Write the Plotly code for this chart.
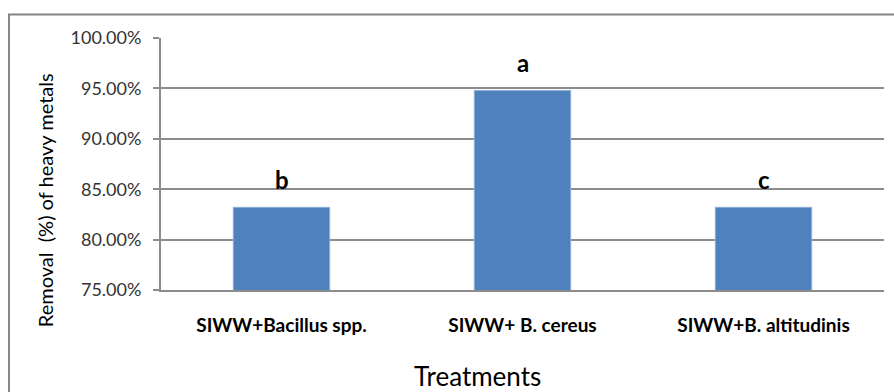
import plotly.graph_objects as go

# Heavy-metal removal by treatment
treatments = ["SIWW+Bacillus spp.", "SIWW+ B. cereus", "SIWW+B. altitudinis"]
removal = [0.832, 0.948, 0.832]
groups = ["b", "a", "c"]

W, H = 894, 392
L, R, T, B = 161, 10, 37.5, 102
pw, ph = W - L - R, H - T - B


def px_x(p):
    return (p - L) / pw


def px_y(p):
    return (H - B - p) / ph


fig = go.Figure()
fig.add_trace(go.Bar(
    x=treatments, y=removal, width=0.4,
    marker=dict(color="#4F81BD", line=dict(color="#8fb0dc", width=1)),
    hoverinfo="skip",
))

for t, v, g in zip(treatments, removal, groups):
    fig.add_annotation(x=t, y=v, text=f"<b>{g}</b>", showarrow=False,
                       yanchor="bottom", yshift=11,
                       font=dict(family="Lato", size=24, color="#000000"))

# axis titles
fig.add_annotation(xref="paper", yref="paper", x=px_x(477), y=px_y(376),
                   text="Treatments", showarrow=False,
                   xanchor="center", yanchor="middle",
                   font=dict(family="Lato", size=26, color="#000000"))
fig.add_annotation(xref="paper", yref="paper", x=px_x(45), y=px_y(200),
                   text="Removal  (%) of heavy metals", showarrow=False,
                   textangle=-90, xanchor="center", yanchor="middle",
                   font=dict(family="Lato", size=20, color="#000000"))

# outer chart frame
fig.add_shape(type="rect", xref="paper", yref="paper",
              x0=px_x(9), x1=px_x(905), y0=px_y(14), y1=px_y(405),
              line=dict(color="#868686", width=2), fillcolor="rgba(0,0,0,0)")

fig.update_layout(
    width=W, height=H,
    margin=dict(l=L, r=R, t=T, b=B, pad=0),
    plot_bgcolor="white", paper_bgcolor="white",
    showlegend=False,
    font=dict(family="Lato", color="#404040"),
)
fig.update_yaxes(
    range=[0.75, 1.0], dtick=0.05, tickformat=".2%",
    showgrid=True, gridcolor="#8c8c8c", gridwidth=2,
    showline=True, linecolor="#8c8c8c", linewidth=2,
    ticks="outside", ticklen=6, tickcolor="#8c8c8c", tickwidth=2,
    ticklabelstandoff=8,
    tickfont=dict(family="Lato", size=18, color="#333333"),
    zeroline=False,
)
fig.update_xaxes(
    showline=True, linecolor="#8c8c8c", linewidth=2,
    ticks="", ticklabelstandoff=17,
    tickfont=dict(family="Lato", size=19, color="#000000"),
    tickprefix="<b>", ticksuffix="</b>",
)

fig.write_html("out.html")
